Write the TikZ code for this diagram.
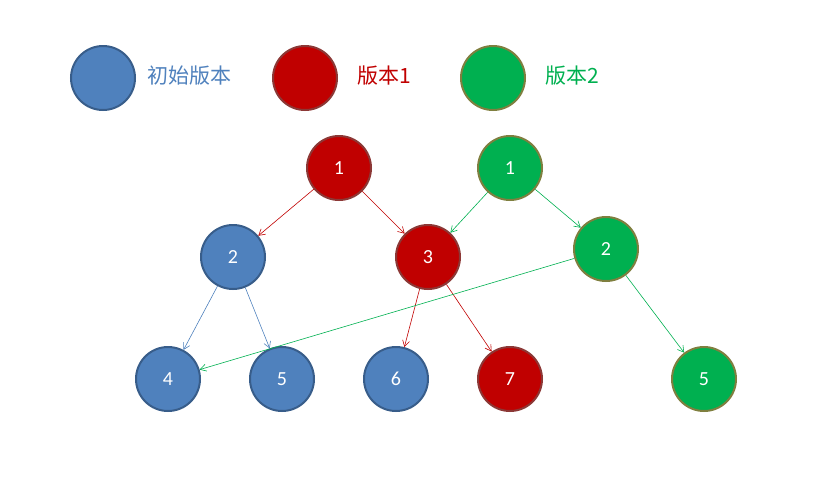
\documentclass[tikz,border=0pt]{standalone}
\usepackage{fontspec}
\setmainfont{Carlito}
\newfontfamily\cjk{Noto Sans CJK SC}
\usetikzlibrary{arrows.meta}
\definecolor{bf}{HTML}{4F81BD}\definecolor{bb}{HTML}{385D8A}
\definecolor{rf}{HTML}{C00000}\definecolor{rb}{HTML}{8C3836}
\definecolor{gf}{HTML}{00B050}\definecolor{gb}{HTML}{7F7F3F}
\tikzset{
 nd/.style={circle,minimum size=64pt,inner sep=0pt,line width=2pt,text=white,font=\fontsize{20}{20}\selectfont},
 bn/.style={nd,fill=bf,draw=bb},
 rn/.style={nd,fill=rf,draw=rb},
 gn/.style={nd,fill=gf,draw=gb},
 ed/.style={line width=0.6pt,-{Straight Barb[length=6pt,width=7pt]}},
 lg/.style={anchor=west,font=\fontsize{21}{21}\selectfont}
}
\begin{document}
\begin{tikzpicture}[x=1pt,y=-1pt]
\useasboundingbox (0,0) rectangle (830,496);
\node[bn] (lb) at (103,78) {};
\node[lg,text=bf] (tb) at (144,76) {\cjk 初始版本};
\node[rn] (lr) at (305,78) {};
\node[lg,text=rf] (tr) at (354,76) {\cjk 版本1};
\node[gn] (lgn) at (493,78) {};
\node[lg,text=gf] (tg) at (542,76) {\cjk 版本2};
\node[rn] (r1) at (339,168) {1};
\node[gn] (g1) at (510,168) {1};
\node[bn] (b2) at (233,257) {2};
\node[rn] (r3) at (428,257) {3};
\node[gn] (g2) at (606,249) {2};
\node[bn] (b4) at (168,379) {4};
\node[bn] (b5) at (282,379) {5};
\node[bn] (b6) at (396,379) {6};
\node[rn] (r7) at (510,379) {7};
\node[gn] (g5) at (704,379) {5};
\draw[ed,rf] (r1) -- (b2);
\draw[ed,rf] (r1) -- (r3);
\draw[ed,gf] (g1) -- (r3);
\draw[ed,gf] (g1) -- (g2);
\draw[ed,bf] (b2) -- (b4);
\draw[ed,bf] (b2) -- (b5);
\draw[ed,rf] (r3) -- (b6);
\draw[ed,rf] (r3) -- (r7);
\draw[ed,gf] (g2) -- (b4);
\draw[ed,gf] (g2) -- (g5);
\end{tikzpicture}
\end{document}
